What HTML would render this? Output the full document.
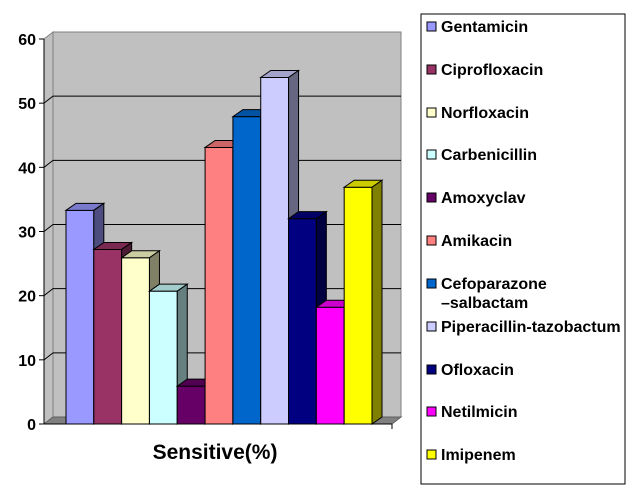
<!DOCTYPE html>
<html><head><meta charset="utf-8"><style>
html,body{margin:0;padding:0;background:#fff;}
svg{display:block;font-family:"Liberation Sans",Arial,sans-serif;}
</style></head><body>
<svg id="chart" width="636" height="498" viewBox="0 0 636 498" xmlns="http://www.w3.org/2000/svg">
<g id="plot"></g>
<text x="215" y="459" text-anchor="middle" font-size="21" font-weight="bold">Sensitive(%)</text>
<rect x="421" y="14" width="204" height="470" fill="#fff" stroke="#000" stroke-width="1"/>
<g id="legend"></g>
</svg>
<script>
const categories=["Gentamicin","Ciprofloxacin","Norfloxacin","Carbenicillin","Amoxyclav","Amikacin","Cefoparazone –salbactam","Piperacillin-tazobactum","Ofloxacin","Netilmicin","Imipenem"];
const values=[33.3,27.2,25.9,20.7,5.9,43.1,47.9,54,32,18.2,36.9];
const colors=["#9999ff","#993366","#ffffcc","#ccffff","#660066","#ff8080","#0066cc","#ccccff","#000080","#ff00ff","#ffff00"];
const yTicks=[0,10,20,30,40,50,60];
const NS="http://www.w3.org/2000/svg";
const plot=document.getElementById('plot');
const X0=44,Y0=424,YT=39,DX=9,DY=-7,XR=392;
const ymax=60;
function y(v){return Y0-(Y0-YT)*v/ymax;}
function mk(t,a,p){const e=document.createElementNS(NS,t);for(const k in a)e.setAttribute(k,a[k]);(p||plot).appendChild(e);return e;}
function shade(c,f){const n=parseInt(c.slice(1),16);const r=Math.round(((n>>16)&255)*f),g=Math.round(((n>>8)&255)*f),b=Math.round((n&255)*f);return `rgb(${r},${g},${b})`;}
let w=mk('polygon',{points:`${X0},${Y0} ${X0+DX},${Y0+DY} ${X0+DX},${YT+DY} ${X0},${YT}`,fill:'#c0c0c0',stroke:'#808080'});

w=mk('rect',{x:X0+DX,y:YT+DY,width:XR-X0,height:Y0-YT,fill:'#c0c0c0',stroke:'#808080'});

yTicks.forEach(t=>{
 if(t>0&&t<60){const l=mk('polyline',{points:`${X0},${y(t)} ${X0+DX},${y(t)+DY} ${XR+DX},${y(t)+DY}`,fill:'none',stroke:'#000','stroke-width':1});
 }
 const tk=mk('line',{x1:X0-5,y1:y(t),x2:X0,y2:y(t),stroke:'#000'});
 
 const tx=mk('text',{x:X0-8,y:y(t)+6,'text-anchor':'end','font-size':16,'font-weight':'bold'});tx.textContent=t;
 
});
const fl=mk('polygon',{points:`${X0},${Y0} ${X0+DX},${Y0+DY} ${XR+DX},${Y0+DY} ${XR},${Y0}`,fill:'#808080',stroke:'#606060'});

mk('line',{x1:X0,y1:YT,x2:X0,y2:Y0,stroke:'#000'});
mk('line',{x1:X0,y1:Y0,x2:XR,y2:Y0,stroke:'#000'});
mk('line',{x1:XR,y1:Y0,x2:XR,y2:Y0+5,stroke:'#000'});
const BX=66,BW=(372-66)/categories.length,BD=10,BDY=-7;
values.forEach((v,i)=>{
 const x=BX+i*BW,top=y(v),c=colors[i];
 const g=mk('g',{});
 
 mk('rect',{x:x,y:top,width:BW,height:Y0-top,fill:c,stroke:'#000','stroke-width':1},g);
 mk('polygon',{points:`${x},${top} ${x+BD},${top+BDY} ${x+BW+BD},${top+BDY} ${x+BW},${top}`,fill:shade(c,0.8),stroke:'#000','stroke-width':1},g);
 mk('polygon',{points:`${x+BW},${top} ${x+BW+BD},${top+BDY} ${x+BW+BD},${Y0+BDY} ${x+BW},${Y0}`,fill:shade(c,0.5),stroke:'#000','stroke-width':1},g);
});
const lg=document.getElementById('legend');
const ly=[27,70,113,155,198,241,284,327,370,412,455];
categories.forEach((c,i)=>{
 const g=mk('g',{},lg);
 
 mk('rect',{x:427,y:ly[i]-5,width:9,height:9,fill:colors[i],stroke:'#000'},g);
 const parts=c.includes('–')?["Cefoparazone","–salbactam"]:[c];
 parts.forEach((p,j)=>{const t=mk('text',{x:441,y:ly[i]+5+j*19,'font-size':16,'font-weight':'bold'},g);t.textContent=p;});
});
</script>
</body></html>
